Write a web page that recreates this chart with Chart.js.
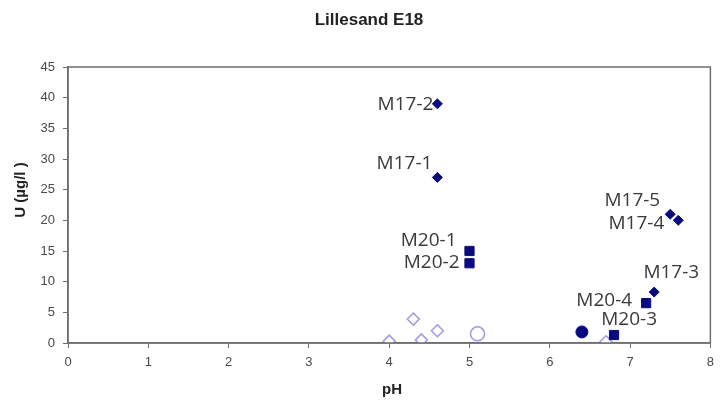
<!DOCTYPE html>
<html>
<head>
<meta charset="utf-8">
<script src="https://cdn.jsdelivr.net/npm/chart.js@4/dist/chart.umd.min.js"></script>
<style>
  html, body { margin: 0; padding: 0; background: #fff; }
  #wrap { width: 721px; height: 401px; }
</style>
</head>
<body>
<div id="wrap"><canvas id="chart1" width="721" height="401"></canvas></div>
<script>
// data
var m17Names = ["M17-1", "M17-2", "M17-3", "M17-4", "M17-5"];
var m17PH = [4.6, 4.6, 7.3, 7.6, 7.5];
var m17U = [27, 39, 8.3, 20, 21];

var m20Names = ["M20-1", "M20-2", "M20-3", "M20-4"];
var m20PH = [5.0, 5.0, 6.8, 7.2];
var m20U = [15, 13, 1.3, 6.5];

var dotPH = [6.4];
var dotU = [1.8];

var openDiamondPH = [4.0, 4.3, 4.4, 4.6, 6.7];
var openDiamondU = [0.3, 3.9, 0.5, 2.0, 0.2];

var openCirclePH = [5.1];
var openCircleU = [1.5];

var xTicks = [0, 1, 2, 3, 4, 5, 6, 7, 8];
var yTicks = [0, 5, 10, 15, 20, 25, 30, 35, 40, 45];

var titleText = "Lillesand E18";
var xTitle = "pH";
var yTitle = "U (µg/l )";

// label placement (pixels from the point, text right-aligned)
var labelShift = {
	"M17-1": [-5, -14], "M17-2": [-4, 1], "M17-3": [45, -19], "M17-4": [-14, 3], "M17-5": [-10, -14],
	"M20-1": [-13, -10], "M20-2": [-10, -1], "M20-3": [43, -15], "M20-4": [-14, -3]
};

function pts(xs, ys) {
	return xs.map(function(x, i) { return { x: x, y: ys[i] }; });
}

var navy = "#0a0a80";
var pale = "#9a9ae6";
var sans = "'Liberation Sans', Arial, sans-serif";

var frame = {
	id: "frame",
	afterDatasetsDraw: function(chart) {
		var c = chart.ctx, a = chart.chartArea;
		c.save();
		c.strokeStyle = "#6e6e6e";
		c.lineWidth = 1.5;
		c.strokeRect(a.left, a.top, a.right - a.left, a.bottom - a.top);

		// point labels
		c.font = "19px 'Open Sans', sans-serif";
		c.fillStyle = "#3a3a3a";
		c.textAlign = "right";
		c.textBaseline = "middle";
		[[0, m17Names], [1, m20Names]].forEach(function(d) {
			var meta = chart.getDatasetMeta(d[0]);
			meta.data.forEach(function(el, i) {
				var s = labelShift[d[1][i]];
				c.fillText(d[1][i], el.x + s[0], el.y + s[1]);
			});
		});

		// titles
		c.fillStyle = "#222";
		c.textAlign = "center";
		c.font = "bold 17px " + sans;
		c.fillText(titleText, 369, 20);
		c.font = "bold 15px " + sans;
		c.fillText(xTitle, 392, 390);
		c.translate(21, 190);
		c.rotate(-Math.PI / 2);
		c.fillText(yTitle, 0, 0);
		c.restore();
	}
};

var chart = new Chart(document.getElementById("chart1"), {
	type: "scatter",
	data: {
		datasets: [{
			label: "M17",
			data: pts(m17PH, m17U),
			pointStyle: "rectRot",
			pointRadius: 5,
			backgroundColor: navy,
			borderColor: navy,
			borderWidth: 1
		}, {
			label: "M20",
			data: pts(m20PH, m20U),
			pointStyle: "rect",
			pointRadius: 6.5,
			backgroundColor: navy,
			borderColor: navy,
			borderWidth: 1
		}, {
			label: "dot",
			data: pts(dotPH, dotU),
			pointStyle: "circle",
			pointRadius: 6,
			backgroundColor: navy,
			borderColor: navy,
			borderWidth: 1
		}, {
			label: "open diamonds",
			data: pts(openDiamondPH, openDiamondU),
			pointStyle: "rectRot",
			pointRadius: 6,
			backgroundColor: "#fff",
			borderColor: pale,
			borderWidth: 1.5
		}, {
			label: "open circle",
			data: pts(openCirclePH, openCircleU),
			pointStyle: "circle",
			pointRadius: 7,
			backgroundColor: "#fff",
			borderColor: pale,
			borderWidth: 1.5
		}]
	},
	options: {
		responsive: false,
		animation: false,
		layout: {
			padding: { top: 67, right: 6, bottom: 0, left: 0 }
		},
		plugins: {
			legend: { display: false },
			tooltip: { enabled: false }
		},
		scales: {
			x: {
				type: "linear",
				min: 0,
				max: 8,
				afterBuildTicks: function(s) { s.ticks = xTicks.map(function(v) { return { value: v }; }); },
				afterFit: function(s) { s.height = 58; },
				grid: { drawOnChartArea: false, tickLength: 5, color: "#6e6e6e" },
				border: { color: "#6e6e6e", width: 1.5 },
				ticks: { color: "#4a4a4a", font: { size: 13, family: sans }, padding: 7 }
			},
			y: {
				type: "linear",
				min: 0,
				max: 45,
				afterBuildTicks: function(s) { s.ticks = yTicks.map(function(v) { return { value: v }; }); },
				afterFit: function(s) { s.width = 68; },
				grid: { drawOnChartArea: false, tickLength: 5, color: "#6e6e6e" },
				border: { color: "#6e6e6e", width: 1.5 },
				ticks: { color: "#4a4a4a", font: { size: 13, family: sans }, padding: 8 }
			}
		}
	},
	plugins: [frame]
});
</script>
</body>
</html>
